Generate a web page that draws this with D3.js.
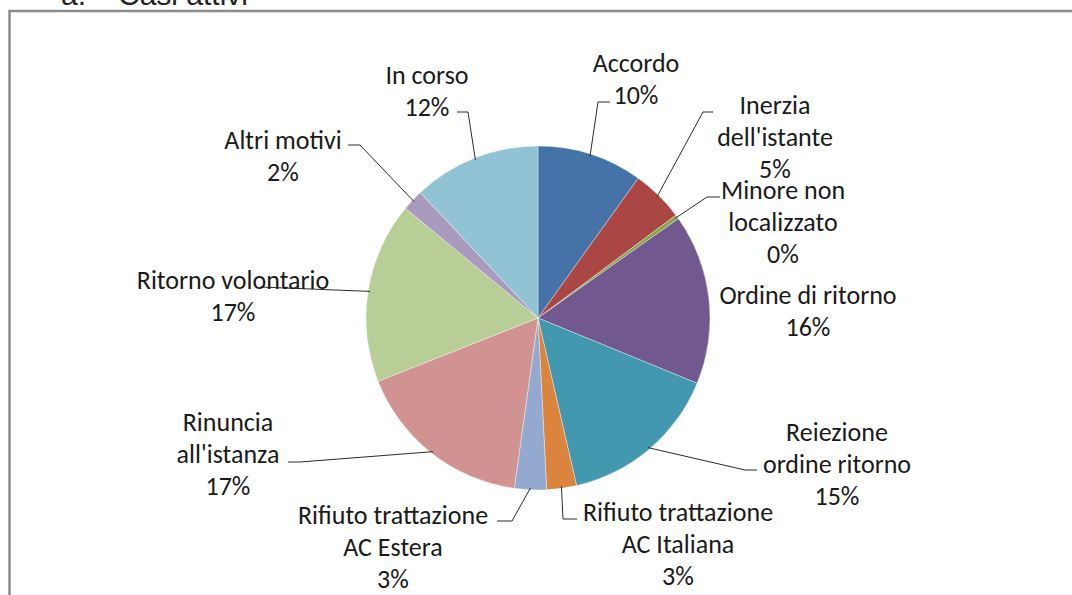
<!DOCTYPE html>
<html>
<head>
<meta charset="utf-8">
<script src="https://cdn.jsdelivr.net/npm/d3@7"></script>
<style>
  html, body { margin: 0; padding: 0; background: #ffffff; }
  svg { display: block; }
</style>
</head>
<body>
<svg id="chart" width="1072" height="595"></svg>
<script>
// ---- data ----
const categories = ["Accordo", "Inerzia dell'istante", "Minore non localizzato", "Ordine di ritorno",
  "Reiezione ordine ritorno", "Rifiuto trattazione AC Italiana", "Rifiuto trattazione AC Estera",
  "Rinuncia all'istanza", "Ritorno volontario", "Altri motivi", "In corso"];
const values = [9.9, 4.9, 0.4, 16.0, 15.2, 2.8, 3.0, 16.8, 17.0, 2.0, 12.0];
const labelLines = [["Accordo"], ["Inerzia", "dell'istante"], ["Minore non", "localizzato"], ["Ordine di ritorno"],
  ["Reiezione", "ordine ritorno"], ["Rifiuto trattazione", "AC Italiana"], ["Rifiuto trattazione", "AC Estera"],
  ["Rinuncia", "all'istanza"], ["Ritorno volontario"], ["Altri motivi"], ["In corso"]];
const titleParts = ["a.", "Casi attivi"];

// ---- layout / style ----
const colors = ["#4572A7", "#AA4643", "#89A54E", "#71588F", "#4198AF", "#DB843D",
  "#93A9CF", "#D19392", "#B9CD96", "#A99BBD", "#92C3D4"];
const cx = 538, cy = 318, r = 172;
const lineGap = 32;
// label anchor: text center x, first line center y
const labelPos = [[636, 63], [775, 105], [783, 190], [808, 295], [837, 432], [678, 512],
  [393, 515], [228, 422], [233, 280], [283, 140], [427, 75]];
// leader knee and end points (null = no leader)
const leaders = [[[598, 102], [610, 102]], [[703, 112], [713, 112]], [[707, 197], [720, 197]], null,
  [[745, 470], [757, 470]], [[563, 519], [577, 519]], [[512, 521], [497, 521]],
  [[300, 462], [288, 462]], [[260, 287], [260, 287]], [[360, 145], [348, 145]], [[468, 112], [457, 112]]];
const titleX = [61, 118];

const svg = d3.select("#chart");
const fontFam = "Carlito, Calibri, Lato, 'Open Sans', sans-serif";

// frame
svg.append("rect").attr("x", 9.5).attr("y", 11).attr("width", 1200).attr("height", 800)
  .attr("fill", "none").attr("stroke", "#8c8c8c").attr("stroke-width", 2.5);

// title (cut off at top)
titleParts.forEach((p, i) => {
  svg.append("text").attr("x", titleX[i]).attr("y", 5).text(p)
    .attr("font-family", "'Liberation Sans', Arial, sans-serif").attr("font-size", 30).attr("fill", "#222");
});

const total = d3.sum(values);
const pie = d3.pie().sort(null).value(d => d)(values);
const arc = d3.arc().innerRadius(0).outerRadius(r);
const g = svg.append("g").attr("transform", `translate(${cx},${cy})`);
g.selectAll("path").data(pie).join("path")
  .attr("d", arc).attr("fill", (d, i) => colors[i])
  .attr("stroke", "#ffffff").attr("stroke-width", 0.6).attr("stroke-opacity", 0.6);

const edge = d3.arc().innerRadius(r - 2).outerRadius(r - 2);
const pctFmt = d3.format(".0%");

pie.forEach((d, i) => {
  if (leaders[i]) {
    const c = edge.centroid(d);
    const pts = [[cx + c[0], cy + c[1]], leaders[i][0], leaders[i][1]];
    svg.append("path").attr("d", d3.line()(pts))
      .attr("fill", "none").attr("stroke", "#2a2a2a").attr("stroke-width", 1);
  }
  const lines = labelLines[i].concat([pctFmt(values[i] / total)]);
  const t = svg.append("text")
    .attr("font-family", fontFam).attr("font-size", 26).attr("fill", "#1a1a1a")
    .attr("text-anchor", "middle");
  lines.forEach((ln, k) => {
    t.append("tspan").attr("x", labelPos[i][0]).attr("y", labelPos[i][1] + k * lineGap)
      .attr("dy", "0.35em").text(ln);
  });
});
</script>
</body>
</html>
